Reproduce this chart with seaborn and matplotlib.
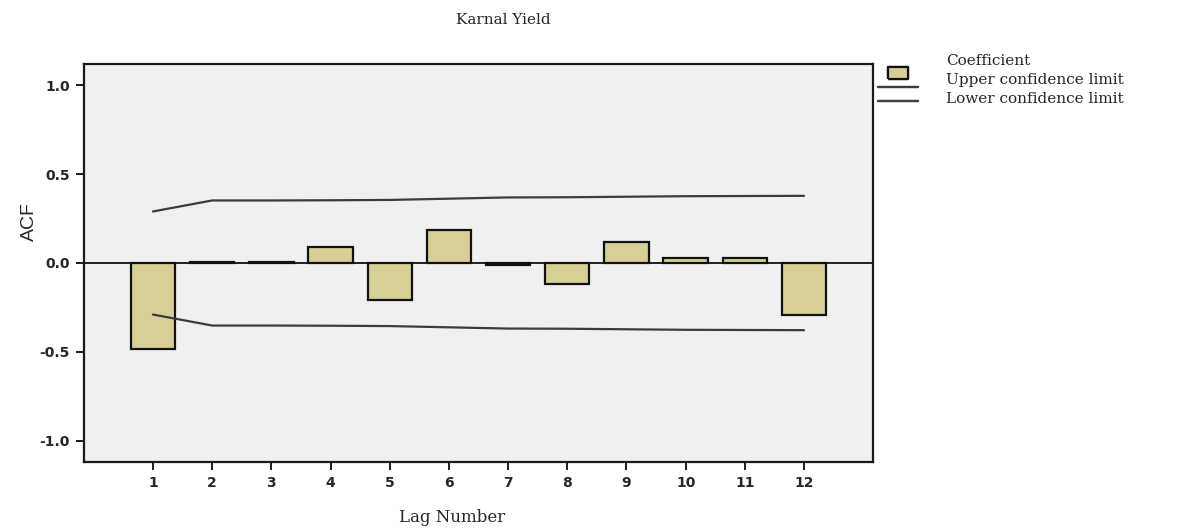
import matplotlib
matplotlib.use("Agg")
import matplotlib.pyplot as plt
import seaborn as sns
import pandas as pd
from matplotlib.lines import Line2D

# Autocorrelation of the yield series by lag
lags = [1, 2, 3, 4, 5, 6, 7, 8, 9, 10, 11, 12]
coefficient = [-0.485, 0.005, 0.005, 0.088, -0.207, 0.188, -0.010, -0.118, 0.120, 0.030, 0.030, -0.293]
upper_limit = [0.290, 0.352, 0.352, 0.353, 0.355, 0.362, 0.369, 0.370, 0.373, 0.376, 0.377, 0.378]
lower_limit = [-0.290, -0.352, -0.352, -0.353, -0.355, -0.362, -0.369, -0.370, -0.373, -0.376, -0.377, -0.378]
y_ticks = [-1.0, -0.5, 0.0, 0.5, 1.0]
y_tick_labels = ["-1.0", "-0.5", "0.0", "0.5", "1.0"]
legend_labels = ["Coefficient", "Upper confidence limit", "Lower confidence limit"]

df = pd.DataFrame({"lag": lags, "acf": coefficient,
                   "upper": upper_limit, "lower": lower_limit})

sns.set_style("ticks", {"axes.facecolor": "#f0f0f0", "axes.edgecolor": "#1a1a1a"})

BAR_COLOR = "#d6cf96"
LINE_COLOR = "#3c3c3c"
SERIF = "DejaVu Serif"

fig = plt.figure(figsize=(11.87, 5.30), dpi=100)
ax = fig.add_axes([84 / 1187, 1 - 462 / 530, (873 - 84) / 1187, (462 - 64) / 530])

sns.barplot(data=df, x="lag", y="acf", native_scale=True, width=0.75,
            color=BAR_COLOR, saturation=1, edgecolor="#111111", linewidth=1.6,
            errorbar=None, ax=ax, zorder=3)
ax.axhline(0, color="#111111", lw=1.3, zorder=2)
sns.lineplot(data=df, x="lag", y="upper", color=LINE_COLOR, lw=1.6, ax=ax, zorder=4)
sns.lineplot(data=df, x="lag", y="lower", color=LINE_COLOR, lw=1.6, ax=ax, zorder=4)

ax.set_xlim(lags[0] - 1.165, lags[-1] + 1.165)
ax.set_ylim(-1.12, 1.12)
ax.set_xticks(lags)
ax.set_xticklabels([str(v) for v in lags])
ax.set_yticks(y_ticks)
ax.set_yticklabels(y_tick_labels)
ax.tick_params(axis="both", direction="out", length=6, width=1.4, color="#1a1a1a",
               labelsize=10, pad=4)
for lab in ax.get_xticklabels() + ax.get_yticklabels():
    lab.set_fontweight("bold")
    lab.set_family("DejaVu Sans")
for s in ax.spines.values():
    s.set_visible(True)
    s.set_linewidth(1.6)
ax.set_xlabel("")
ax.set_ylabel("")

fig.text(503 / 1187, 1 - 20 / 530, "Karnal Yield", ha="center", va="center",
         family=SERIF, fontsize=11)
fig.text(29 / 1187, 1 - 222 / 530, "ACF", ha="center", va="center", rotation=90,
         family="Liberation Sans", fontsize=14)
fig.text(452 / 1187, 1 - 517 / 530, "Lag Number", ha="center", va="center",
         family=SERIF, fontsize=12)

# Legend keys and legend texts are laid out as two separate columns
box = [(-1, -0.57), (1, -0.57), (1, 0.57), (-1, 0.57), (-1, -0.57)]
handles = [Line2D([], [], marker=box, markersize=15, markerfacecolor=BAR_COLOR,
                  markeredgecolor="#111111", markeredgewidth=1.6, linestyle="none"),
           Line2D([], [], color=LINE_COLOR, lw=1.6),
           Line2D([], [], color=LINE_COLOR, lw=1.6)]
keys = fig.legend(handles, ["", "", ""], loc="upper left",
                  bbox_to_anchor=(878 / 1187, 1 - 69 / 530), frameon=False,
                  prop={"family": SERIF, "size": 8}, handlelength=3.6,
                  handletextpad=0, labelspacing=0.35, borderaxespad=0,
                  borderpad=0)
fig.add_artist(keys)
blank = [Line2D([], [], linestyle="none") for _ in legend_labels]
fig.legend(blank, legend_labels, loc="upper left",
           bbox_to_anchor=(946 / 1187, 1 - 54 / 530), frameon=False,
           prop={"family": SERIF, "size": 11}, handlelength=0,
           handletextpad=0, labelspacing=0.32, borderaxespad=0, borderpad=0)

fig.savefig("out.png", dpi=100)
